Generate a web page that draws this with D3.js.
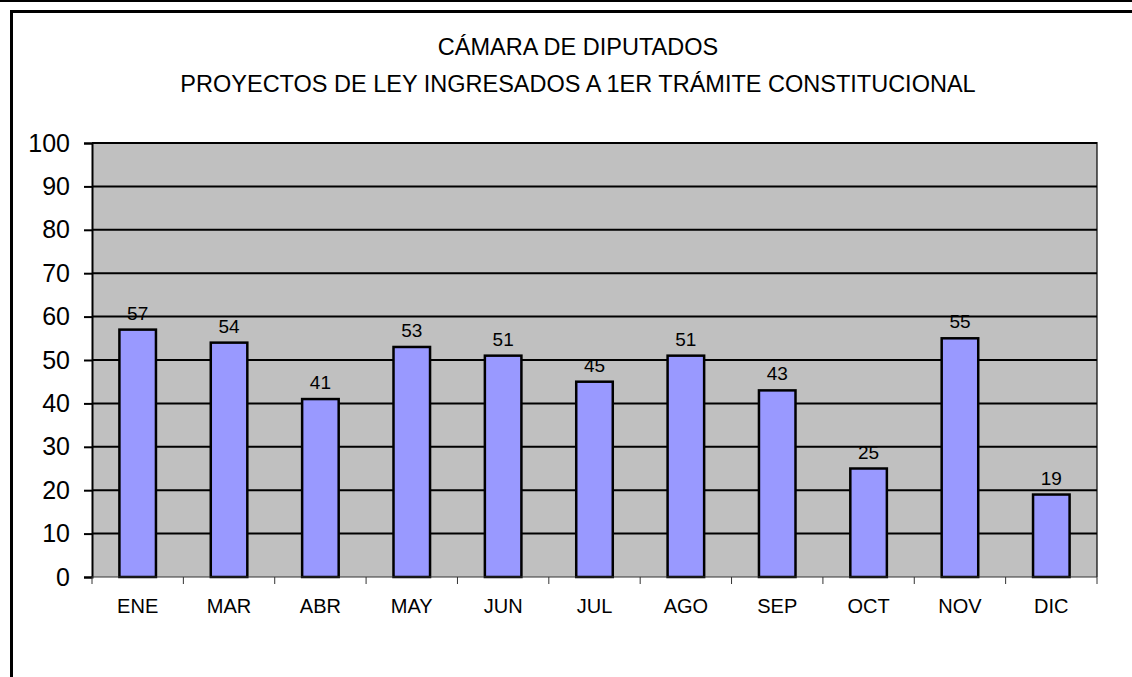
<!DOCTYPE html>
<html>
<head>
<meta charset="utf-8">
<script src="https://cdn.jsdelivr.net/npm/d3@7"></script>
<style>
  body { margin: 0; background: #fff; }
  text { font-family: "Liberation Sans", Arial, sans-serif; fill: #000; }
</style>
</head>
<body>
<div id="chart"></div>
<script>
var months = ["ENE", "MAR", "ABR", "MAY", "JUN", "JUL", "AGO", "SEP", "OCT", "NOV", "DIC"];
var proyectos = [57, 54, 41, 53, 51, 45, 51, 43, 25, 55, 19];
var yTicks = [0, 10, 20, 30, 40, 50, 60, 70, 80, 90, 100];
var titleLines = ["CÁMARA DE DIPUTADOS", "PROYECTOS DE LEY INGRESADOS A 1ER TRÁMITE CONSTITUCIONAL"];

var width = 1132, height = 677;
var plotLeft = 92, plotRight = 1097, plotTop = 143, plotBottom = 577;

var svg = d3.select("#chart").append("svg")
    .attr("width", width)
    .attr("height", height);

svg.append("rect")
    .attr("width", width).attr("height", height)
    .attr("fill", "white");

// frame lines (page border of the original sheet)
svg.append("rect")
    .attr("x", 0).attr("y", 0).attr("width", width).attr("height", 2)
    .attr("fill", "black");
svg.append("rect")
    .attr("x", 10).attr("y", 10).attr("width", width - 10).attr("height", 3)
    .attr("fill", "black");
svg.append("rect")
    .attr("x", 10).attr("y", 10).attr("width", 3).attr("height", height - 10)
    .attr("fill", "black");

// title
svg.selectAll(".title")
    .data(titleLines)
    .enter().append("text")
        .attr("class", "title")
        .attr("x", 578)
        .attr("y", function(d, i) { return 55 + i * 37; })
        .attr("text-anchor", "middle")
        .style("font-size", "23.5px")
        .text(function(d) { return d; });

var x = d3.scaleBand()
    .domain(months)
    .range([plotLeft, plotRight])
    .paddingInner(0.6)
    .paddingOuter(0.3);

var y = d3.scaleLinear()
    .domain([0, 100])
    .range([plotBottom, plotTop]);

// plot background
svg.append("rect")
    .attr("x", plotLeft).attr("y", plotTop)
    .attr("width", plotRight - plotLeft)
    .attr("height", plotBottom - plotTop)
    .attr("fill", "#c0c0c0");

// gridlines
svg.selectAll(".grid")
    .data(yTicks.filter(function(d) { return d > 0; }))
    .enter().append("line")
        .attr("class", "grid")
        .attr("x1", plotLeft).attr("x2", plotRight)
        .attr("y1", function(d) { return y(d); })
        .attr("y2", function(d) { return y(d); })
        .attr("stroke", "black")
        .attr("stroke-width", 2);

// right border of plot
svg.append("line")
    .attr("x1", plotRight).attr("x2", plotRight)
    .attr("y1", plotTop - 1).attr("y2", plotBottom)
    .attr("stroke", "black")
    .attr("stroke-width", 1.2);

// bars
svg.selectAll(".bar")
    .data(proyectos)
    .enter().append("rect")
        .attr("class", "bar")
        .attr("x", function(d, i) { return x(months[i]); })
        .attr("y", function(d) { return y(d); })
        .attr("width", x.bandwidth())
        .attr("height", function(d) { return y(0) - y(d); })
        .attr("fill", "#9999ff")
        .attr("stroke", "black")
        .attr("stroke-width", 2.5);

// value labels
svg.selectAll(".val")
    .data(proyectos)
    .enter().append("text")
        .attr("class", "val")
        .attr("x", function(d, i) { return x(months[i]) + x.bandwidth() / 2; })
        .attr("y", function(d) { return y(d) - 10; })
        .attr("text-anchor", "middle")
        .style("font-size", "19px")
        .text(function(d) { return d; });

// y axis
var yAxis = svg.append("g")
    .attr("transform", "translate(" + plotLeft + ",0)")
    .call(d3.axisLeft(y).tickValues(yTicks).tickSize(8).tickPadding(14));
yAxis.select(".domain").attr("stroke", "black").attr("stroke-width", 2);
yAxis.selectAll(".tick line").attr("stroke", "black").attr("stroke-width", 2);
yAxis.selectAll(".tick text")
    .style("font-size", "25px")
    .style("font-family", "'Liberation Sans', Arial, sans-serif")
    .attr("fill", "black");

// x axis
var xAxis = svg.append("g")
    .attr("transform", "translate(0," + plotBottom + ")");
xAxis.append("line")
    .attr("x1", plotLeft).attr("x2", plotRight)
    .attr("stroke", "#333").attr("stroke-width", 1);
xAxis.selectAll(".xtick")
    .data(d3.range(months.length + 1))
    .enter().append("line")
        .attr("class", "xtick")
        .attr("x1", function(i) { return plotLeft + i * x.step(); })
        .attr("x2", function(i) { return plotLeft + i * x.step(); })
        .attr("y1", 0).attr("y2", 7)
        .attr("stroke", "#333").attr("stroke-width", 1);
xAxis.selectAll(".xlab")
    .data(months)
    .enter().append("text")
        .attr("class", "xlab")
        .attr("x", function(d) { return x(d) + x.bandwidth() / 2; })
        .attr("y", 36)
        .attr("text-anchor", "middle")
        .style("font-size", "20px")
        .text(function(d) { return d; });
</script>
</body>
</html>
